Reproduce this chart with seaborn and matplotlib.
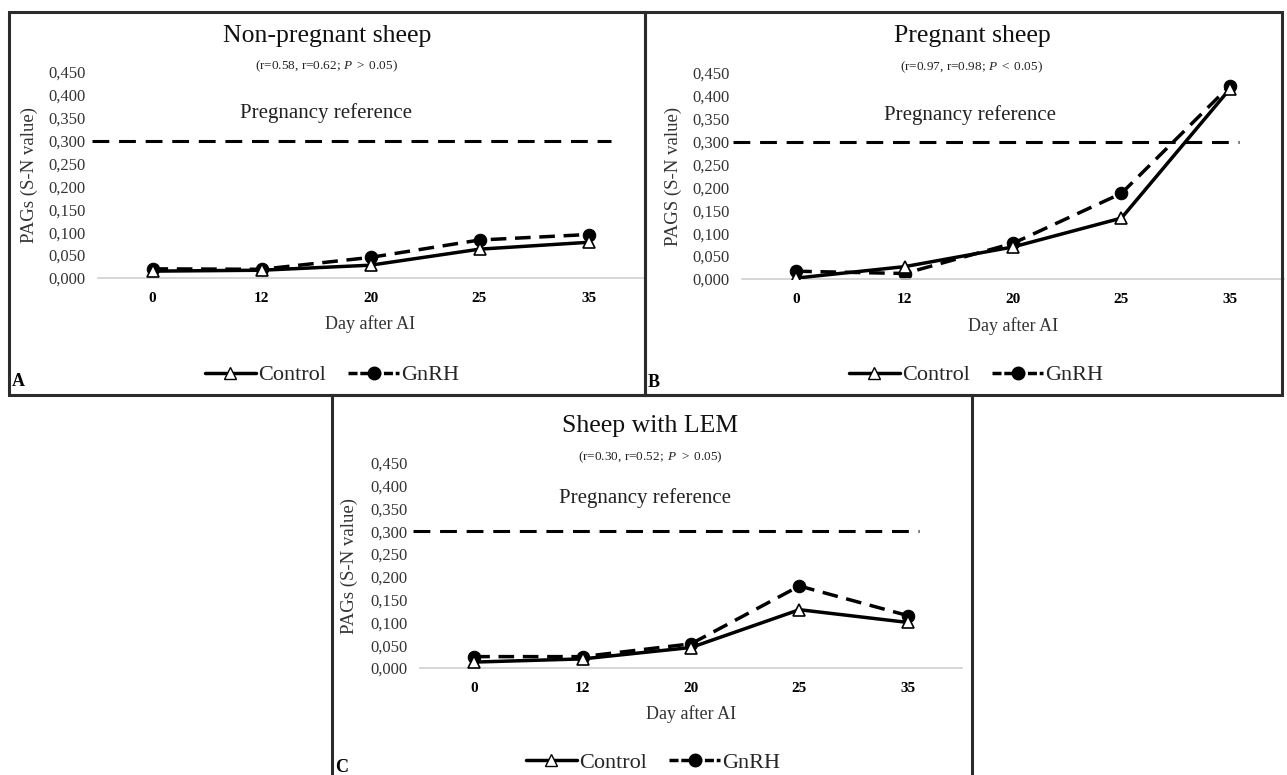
import matplotlib
matplotlib.use("Agg")
import matplotlib.pyplot as plt
import seaborn as sns
import pandas as pd
from matplotlib.lines import Line2D
from matplotlib.patches import Rectangle
from matplotlib.ticker import FuncFormatter, MultipleLocator

# ---------------- data ----------------
days = ["0", "12", "20", "25", "35"]
groups = ["Control", "GnRH"]

nonpreg_control = [0.015, 0.017, 0.028, 0.063, 0.078]
nonpreg_gnrh = [0.020, 0.019, 0.045, 0.083, 0.095]

preg_control = [0.002, 0.027, 0.070, 0.133, 0.415]
preg_gnrh = [0.017, 0.012, 0.078, 0.187, 0.422]

lem_control = [0.013, 0.020, 0.045, 0.128, 0.100]
lem_gnrh = [0.025, 0.025, 0.053, 0.180, 0.115]

pregnancy_reference = 0.300

titles = ["Non-pregnant sheep", "Pregnant sheep", "Sheep with LEM"]
subtitles = [
    r"(r=0.58, r=0.62; $\mathit{P\ >\ 0.05}$)",
    r"(r=0.97, r=0.98; $\mathit{P\ <\ 0.05}$)",
    r"(r=0.30, r=0.52$\mathit{;\ P\ >\ 0.05}$)",
]
ylabels = ["PAGs (S-N value)", "PAGS (S-N value)", "PAGs (S-N value)"]
letters = ["A", "B", "C"]
xlabel = "Day after AI"

# ---------------- style ----------------
sns.set_style("white")
plt.rcParams["font.family"] = ["Liberation Serif", "DejaVu Serif"]
plt.rcParams["mathtext.fontset"] = "custom"
plt.rcParams["mathtext.rm"] = "Liberation Serif"
plt.rcParams["mathtext.it"] = "Liberation Serif:italic"

W, H = 1287, 775
fig = plt.figure(figsize=(W / 100, H / 100), dpi=100)
fig.patch.set_facecolor("white")


def fx(x):
    return x / W


def fy(y):
    return 1 - y / H


# panel geometry in pixels
panels = [
    dict(box=(9, 12, 645, 395), ax=(98, 643, 72, 278), ylab_x=29,
         xlab_y=324, ref_x=(92, 611), ref_txt=(326, 113), title_y=36, sub_y=66,
         cx=327, leg=(332, 375), letter=(12, 381)),
    dict(box=(645, 12, 1282, 395), ax=(742, 1284, 73, 279), ylab_x=673,
         xlab_y=326, ref_x=(733, 1239), ref_txt=(970, 115), title_y=36, sub_y=67,
         cx=972, leg=(976, 375), letter=(648, 383)),
    dict(box=(332, 395, 972, 777), ax=(420, 962, 463, 668), ylab_x=349,
         xlab_y=714, ref_x=(413, 919), ref_txt=(645, 498), title_y=426, sub_y=457,
         cx=650, leg=(653, 763), letter=(335, 767)),
]

series = [
    (nonpreg_control, nonpreg_gnrh),
    (preg_control, preg_gnrh),
    (lem_control, lem_gnrh),
]

fmt = FuncFormatter(lambda v, p: f"{v:.3f}".replace(".", ","))

for i, (p, (ctrl, gnrh)) in enumerate(zip(panels, series)):
    # panel border
    x0, y0, x1, y1 = p["box"]
    fig.patches.append(Rectangle((fx(x0), fy(y1)), fx(x1 - x0), (y1 - y0) / H,
                                 transform=fig.transFigure, fill=False,
                                 edgecolor="#2b2b2b", linewidth=2.2, zorder=0))

    ax_l, ax_r, ax_t, ax_b = p["ax"]
    ax = fig.add_axes([fx(ax_l), fy(ax_b), fx(ax_r - ax_l), (ax_b - ax_t) / H])
    ax.set_facecolor("none")

    df = pd.DataFrame({
        "day": days * 2,
        "value": list(ctrl) + list(gnrh),
        "group": ["Control"] * len(days) + ["GnRH"] * len(days),
    })
    sns.lineplot(data=df, x="day", y="value", hue="group", style="group",
                 hue_order=groups, style_order=groups,
                 palette={"Control": "black", "GnRH": "black"},
                 markers={"Control": "^", "GnRH": "o"},
                 dashes={"Control": "", "GnRH": (4.5, 2.5)},
                 sort=False, linewidth=2.5, markersize=8, legend=False, ax=ax)
    for ln in ax.lines:
        if ln.get_marker() == "^":
            ln.set_markerfacecolor("white")
            ln.set_markeredgecolor("black")
            ln.set_markeredgewidth(1.2)
            ln.set_zorder(3)
        else:
            ln.set_markerfacecolor("black")
            ln.set_markeredgecolor("black")
            ln.set_markersize(9)
            ln.set_zorder(2.5)

    ax.set_xlim(-0.5, len(days) - 0.5)
    ax.set_ylim(0, 0.45)
    ax.yaxis.set_major_locator(MultipleLocator(0.05))
    ax.yaxis.set_major_formatter(fmt)
    ax.tick_params(axis="y", length=0, labelsize=12, labelcolor="#333333", pad=9)
    ax.tick_params(axis="x", length=0, labelsize=11, labelcolor="black", pad=10)
    for lbl in ax.get_xticklabels():
        lbl.set_fontweight("bold")
    for s in ["top", "right", "left"]:
        ax.spines[s].set_visible(False)
    ax.spines["bottom"].set_color("#d0d0d0")
    ax.spines["bottom"].set_linewidth(1.2)
    ax.set_xlabel("")
    ax.set_ylabel("")

    # pregnancy reference dashed line
    rx0, rx1 = p["ref_x"]
    ax.plot([(rx0 - ax_l) / (ax_r - ax_l), (rx1 - ax_l) / (ax_r - ax_l)],
            [pregnancy_reference, pregnancy_reference],
            transform=ax.get_yaxis_transform(), color="black", linewidth=2.2,
            linestyle=(0, (5.5, 3.2)), clip_on=False, zorder=1)

    # texts
    fig.text(fx(p["ref_txt"][0]), fy(p["ref_txt"][1]), "Pregnancy reference",
             ha="center", va="center", fontsize=15, color="#222222")
    fig.text(fx(p["cx"]), fy(p["title_y"]), titles[i], ha="center", va="center",
             fontsize=18.5, color="#111111")
    fig.text(fx(p["cx"]), fy(p["sub_y"]), subtitles[i], ha="center", va="center",
             fontsize=9.5, color="#222222")
    fig.text(fx(p["ylab_x"]), fy((ax_t + ax_b) / 2), ylabels[i], ha="center",
             va="center", rotation=90, fontsize=13.5, color="#333333")
    fig.text(fx((ax_l + ax_r) / 2), fy(p["xlab_y"]), xlabel, ha="center",
             va="center", fontsize=13, color="#333333")
    fig.text(fx(p["letter"][0]), fy(p["letter"][1]), letters[i], ha="left",
             va="center", fontsize=13, fontweight="bold", color="black")

    # legend
    handles = [
        Line2D([], [], color="black", linewidth=2.5, linestyle="-", marker="^",
               markersize=8, markerfacecolor="white", markeredgecolor="black"),
        Line2D([], [], color="black", linewidth=2.5, linestyle=(0, (2.6, 0.8)),
               marker="o", markersize=9, markerfacecolor="black"),
    ]
    fig.legend(handles, groups, loc="center", ncol=2, frameon=False,
               bbox_to_anchor=(fx(p["leg"][0]), fy(p["leg"][1])),
               fontsize=16, handlelength=2.3, handletextpad=0.1,
               columnspacing=1.0, borderpad=0)

fig.savefig("out.png", dpi=100)
